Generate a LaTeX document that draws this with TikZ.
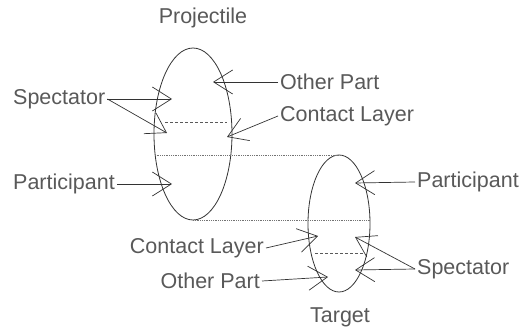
\documentclass[tikz,border=0pt]{standalone}
\usepackage{fontspec}
\setmainfont{Liberation Sans}
\usetikzlibrary{shapes.geometric,arrows.meta}
\begin{document}
\begin{tikzpicture}[x=1pt,y=-1pt,
  lbl/.style={font=\fontsize{21.5}{25}\selectfont, text=black!65, inner sep=2pt},
  body/.style={draw=black!80, ellipse, line width=0.8pt, inner sep=0pt},
  ptr/.style={draw=black!80, line width=0.7pt, -{Straight Barb[length=19pt,width=24pt,line width=0.7pt]}},
  fine/.style={draw=black!55, line width=0.9pt, dash pattern=on 0.9pt off 0.9pt},
  layer/.style={draw=black!65, line width=0.8pt, dash pattern=on 3pt off 2pt}]
\useasboundingbox (0,0) rectangle (523,328);
\fill[white] (0,0) rectangle (523,328);
% bodies
\node[body, minimum width=78pt, minimum height=172pt] (proj) at (193,134) {};
\node[body, minimum width=62pt, minimum height=137pt] (targ) at (339,223.5) {};
% labels
\node[lbl] (projlbl) at (203,18) {Projectile};
\node[lbl] (targlbl) at (340,317) {Target};
\node[lbl, anchor=west] (specL) at (11,99) {Spectator};
\node[lbl, anchor=west] (otherT) at (278,82) {Other Part};
\node[lbl, anchor=west] (contactT) at (278,116) {Contact Layer};
\node[lbl, anchor=west] (partL) at (11,184) {Participant};
\node[lbl, anchor=west] (partR) at (415,182) {Participant};
\node[lbl, anchor=west] (specR) at (415,269) {Spectator};
\node[lbl, anchor=east] (contactB) at (266,248) {Contact Layer};
\node[lbl, anchor=east] (otherB) at (262,281) {Other Part};
% arrow tips
\coordinate (tSpecA) at (172,99);
\coordinate (tSpecB) at (167,133);
\coordinate (tOtherT) at (213,82);
\coordinate (tContactT) at (227,137);
\coordinate (tPartL) at (172,184);
\coordinate (tPartR) at (355,183);
\coordinate (tSpecC) at (355,237);
\coordinate (tSpecD) at (355,270);
\coordinate (tContactB) at (318,236);
\coordinate (tOtherB) at (328,277);
% layer lines
\draw[fine] (proj.209) -- (proj.209 -| targ.north);
\draw[fine] (proj.south) -- (proj.south -| targ.east);
\draw[layer] (165,122) -- (227,122);
\draw[layer] (315,253) -- (363,253);
% pointers
\draw[ptr] (specL.east) -- (tSpecA);
\draw[ptr] (specL.east) -- (tSpecB);
\draw[ptr] (otherT.west) -- (tOtherT);
\draw[ptr] (contactT.west) -- (tContactT);
\draw[ptr] (partL.east) -- (tPartL);
\draw[ptr] (partR.west) -- (tPartR);
\draw[ptr] (specR.west) -- (tSpecC);
\draw[ptr] (specR.west) -- (tSpecD);
\draw[ptr] (contactB.east) -- (tContactB);
\draw[ptr] (otherB.east) -- (tOtherB);
\end{tikzpicture}
\end{document}
